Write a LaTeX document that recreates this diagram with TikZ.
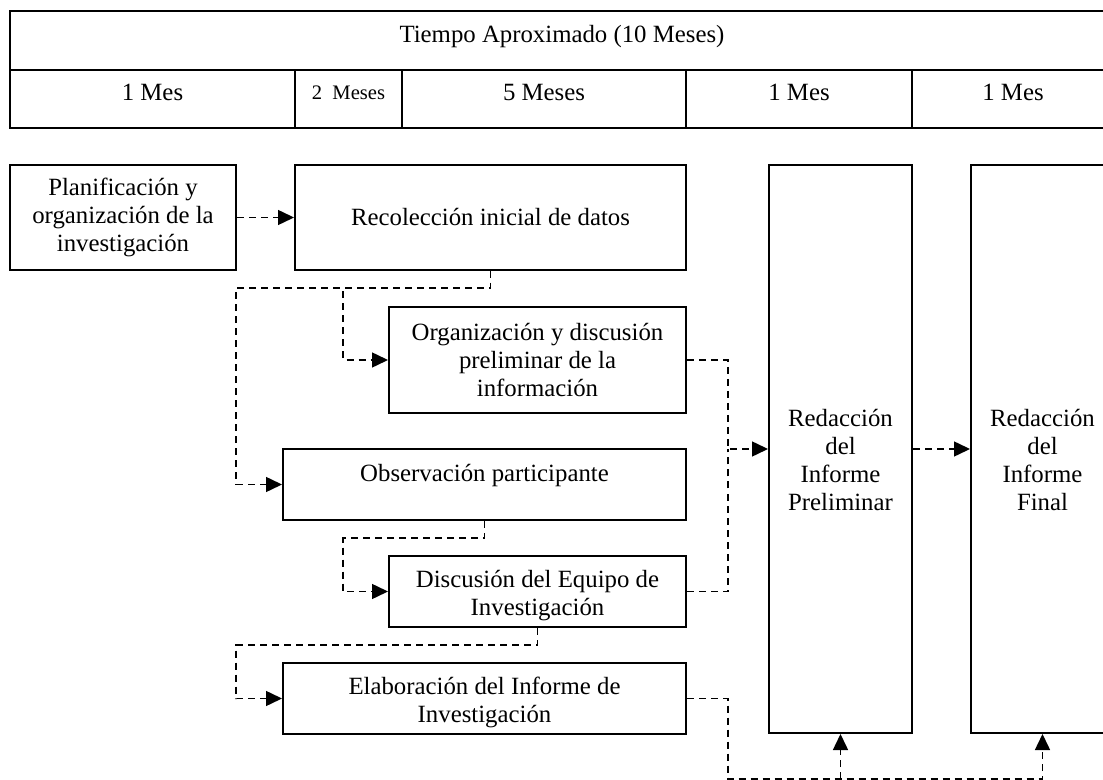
\documentclass[tikz,border=0pt]{standalone}
\usepackage{fontspec}
\setmainfont{Liberation Serif}
\usetikzlibrary{arrows.meta}

\begin{document}
\begin{tikzpicture}
      [%%%%%%%%%%%%%%%%%%%%%%%%%%%%%%
          x=0.5pt, y=-0.5pt,
          box/.style={rectangle,draw=black,line width=1pt,inner sep=0pt,align=center,
                      font=\fontsize{12.4}{14.1}\selectfont},
          cell/.style={box,minimum height=29pt,text depth=6.5pt},
          dline/.style={draw=black,line width=0.75pt,dash pattern=on 3.5pt off 2.5pt},
          conn/.style={dline,-{Triangle[length=8pt,width=7.5pt]}}
      ]%%%%%%%%%%%%%%%%%%%%%%%%%%%%%%

  \useasboundingbox (0,0) rectangle (1103,780);

  % tabla de tiempos
  \node[cell,minimum width=552pt,minimum height=29.5pt] (tiempo) at (562,40.5)
      {Tiempo Aproximado (10 Meses)};
  \foreach \cx/\cw/\txt [count=\i] in {152.5/142.5pt/1 Mes,
                                        348.5/53.5pt/{\fontsize{10.3}{12}\selectfont 2\ \ Meses},
                                        544/142pt/5 Meses,
                                        799/113pt/1 Mes,
                                        1013/101pt/1 Mes}
      \node[cell,minimum width=\cw] (mes\i) at (\cx,99) {\txt};

  % etapas
  \node[box,minimum width=113pt,minimum height=52.5pt] (plan) at (123,217.5)
      {Planificación y\\organización de la\\investigación};
  \node[box,minimum width=195.5pt,minimum height=52.5pt] (recol) at (490.5,217.5)
      {Recolección inicial de datos};
  \node[box,minimum width=148.5pt,minimum height=53pt] (orga) at (537.5,360)
      {Organización y discusión\\preliminar de la\\información};
  \node[box,minimum width=201.5pt,minimum height=35.5pt,text depth=11.3pt] (obse) at (484.5,484.5)
      {Observación participante};
  \node[box,minimum width=148.5pt,minimum height=35.5pt,text height=27.1pt] (disc) at (537.5,591.5)
      {Discusión del Equipo de\\Investigación};
  \node[box,minimum width=201.5pt,minimum height=35.5pt,text height=27.1pt] (elab) at (484.5,698.5)
      {Elaboración del Informe de\\Investigación};
  \node[box,minimum width=71.5pt,minimum height=284pt,text height=62pt] (prel) at (840.5,449)
      {Redacción\\del\\Informe\\Preliminar};
  \node[box,minimum width=71.5pt,minimum height=284pt,text height=62pt] (fina) at (1042.5,449)
      {Redacción\\del\\Informe\\Final};

  \coordinate (j1) at (343,288);
  \coordinate (j2) at (236,288);
  \coordinate (j3) at (343,538);
  \coordinate (j4) at (236,645);
  \coordinate (bus) at (728,449);
  \coordinate (j6) at (728,779);

  % conectores
  \draw[conn] (plan.east) -- (recol.west);
  \draw[conn] (recol.south) |- (j1) |- (orga.west);
  \draw[conn] (recol.south) |- (j2) |- (obse.west);
  \draw[conn] (obse.south) |- (j3) |- (disc.west);
  \draw[conn] (disc.south) |- (j4) |- (elab.west);
  \draw[conn] (orga.east) -| (bus) -- (prel.west);
  \draw[dline] (disc.east) -| (bus);
  \draw[conn] (prel.east) -- (fina.west);
  \draw[conn] (elab.east) -| (j6) -| (fina.south);
  \draw[conn] (j6 -| prel.south) -- (prel.south);

\end{tikzpicture}
\end{document}
